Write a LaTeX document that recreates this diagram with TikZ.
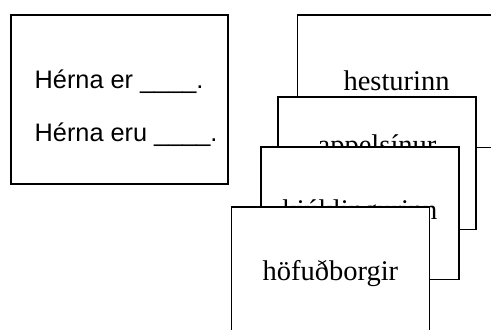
\documentclass[tikz,border=0pt]{standalone}
\usepackage{fontspec}
\setmainfont{Liberation Serif}
\setsansfont{Liberation Sans}
\usetikzlibrary{positioning}

\begin{document}
\begin{tikzpicture}[x=1pt,y=1pt]
\tikzstyle{card}=[%
minimum height=132.5pt,
minimum width=198pt,
inner sep=0pt,
draw, fill=white, line width=1.7pt,
font=\fontsize{28.5}{34}\selectfont
]
\tikzstyle{phrase}=[inner sep=0pt, anchor=base west, font=\sffamily\fontsize{25.3}{30}\selectfont]
\useasboundingbox (0,0) rectangle (491,-330);
   \node[draw, line width=1.7pt, minimum width=217pt, minimum height=169pt, anchor=north west] (frame) at (10,-14) {};
   \node[phrase] (er) at ([shift={(24.5,-74.3)}]frame.north west) {Hérna er \_\_\_\_.};
   \node[phrase] (eru) at ([yshift=-53.4pt]er.base west) {Hérna eru \_\_\_\_.};
   % stacked word cards, back to front
   \node[card, anchor=north west] (hestur) at (296.7,-14) {hesturinn};
   \node[card, below left = 82pt and 19.5pt of hestur.north east, text depth=36.7pt] (appels) {appelsínur};
   \node[card, below left = 50pt and 17.2pt of appels.north east] (kjukl) {kjúklingurinn};
   \node[card, below left = 60pt and 29.5pt of kjukl.north east] (hofud) {höfuðborgir};
\end{tikzpicture}
\end{document}
